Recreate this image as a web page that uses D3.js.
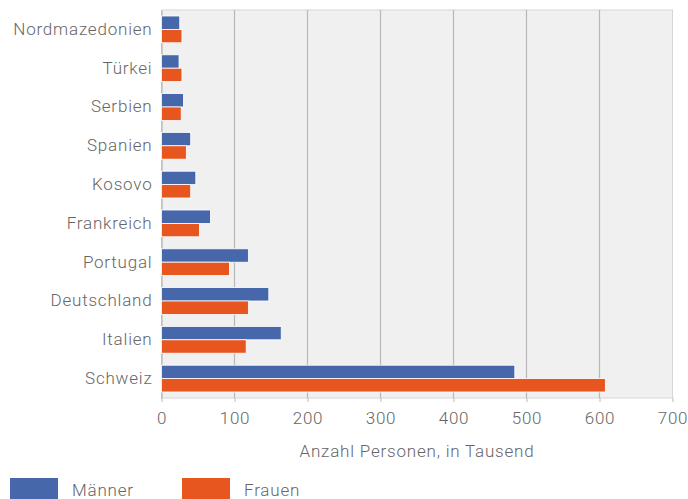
<!DOCTYPE html>
<html>
<head>
<meta charset="utf-8">
<script src="https://cdn.jsdelivr.net/npm/d3@7"></script>
<style>
  body { margin: 0; background: #fff; }
  text { font-family: Roboto, "Open Sans", sans-serif; font-weight: 300; fill: #666; letter-spacing: 0.8px; }
</style>
</head>
<body>
<svg width="688" height="499"></svg>
<script>
// data (thousand persons)
var countries = ["Nordmazedonien", "Türkei", "Serbien", "Spanien", "Kosovo",
                 "Frankreich", "Portugal", "Deutschland", "Italien", "Schweiz"];
var maenner = [25, 24, 30, 40, 47, 67, 119, 147, 164, 484];
var frauen  = [28, 28, 27, 34, 40, 52, 93, 119, 116, 608];
var seriesNames = ["Männer", "Frauen"];
var seriesColors = ["#4767ab", "#e8561f"];
var xTicks = [0, 100, 200, 300, 400, 500, 600, 700];

var svg = d3.select("svg");
var plotLeft = 161.5, plotRight = 672.5, plotTop = 10, plotBottom = 398;

var x = d3.scaleLinear().domain([0, 700]).range([plotLeft, plotRight]);
var y = d3.scaleBand().domain(countries).range([plotTop, plotBottom]).paddingInner(0.31).paddingOuter(0.155);
var y1 = d3.scaleBand().domain(seriesNames).range([0, y.bandwidth()]);

// plot background
svg.append("rect")
    .attr("x", plotLeft).attr("y", plotTop)
    .attr("width", plotRight - plotLeft).attr("height", plotBottom - plotTop)
    .attr("fill", "#f0f0f0").attr("stroke", "#d6d6d6");

// grid lines
svg.selectAll(".grid")
    .data(xTicks.slice(1, -1))
    .enter().append("line")
    .attr("class", "grid")
    .attr("x1", function(d) { return x(d); }).attr("x2", function(d) { return x(d); })
    .attr("y1", plotTop).attr("y2", plotBottom)
    .attr("stroke", "#b8b8b8").attr("stroke-width", 1.2);

// x axis
var xAxis = svg.append("g")
    .attr("transform", "translate(0," + plotBottom + ")")
    .call(d3.axisBottom(x).tickValues(xTicks).tickSize(4).tickPadding(10));
xAxis.select(".domain").remove();
xAxis.selectAll("line").attr("stroke", "#bbb");
xAxis.selectAll("text").style("font-size", "17px").attr("fill", "#707070");

svg.append("text")
    .attr("x", (plotLeft + plotRight) / 2).attr("y", 457)
    .attr("text-anchor", "middle")
    .style("font-size", "17px")
    .text("Anzahl Personen, in Tausend");

// y axis
var yAxis = svg.append("g")
    .attr("transform", "translate(" + plotLeft + ",0)")
    .call(d3.axisLeft(y).tickSize(0).tickPadding(9));
yAxis.select(".domain").attr("stroke", "#aaa");
yAxis.selectAll("text").style("font-size", "17px").attr("fill", "#666");

// bars
var rows = countries.map(function(c, i) { return { country: c, values: [maenner[i], frauen[i]] }; });

var group = svg.selectAll(".row")
    .data(rows)
    .enter().append("g")
    .attr("class", "row")
    .attr("transform", function(d) { return "translate(0," + y(d.country) + ")"; });

group.selectAll("rect")
    .data(function(d) { return d.values.map(function(v, k) { return { key: seriesNames[k], value: v, k: k }; }); })
    .enter().append("rect")
    .attr("x", x(0))
    .attr("y", function(d) { return y1(d.key); })
    .attr("width", function(d) { return x(d.value) - x(0); })
    .attr("height", y1.bandwidth())
    .attr("fill", function(d) { return seriesColors[d.k]; })
    .attr("stroke", "#fff").attr("stroke-width", 0.8);

// legend
var legend = svg.selectAll(".legend")
    .data(seriesNames)
    .enter().append("g")
    .attr("class", "legend")
    .attr("transform", function(d, i) { return "translate(" + (10 + i * 172) + ",478)"; });

legend.append("rect")
    .attr("width", 48).attr("height", 22)
    .attr("fill", function(d, i) { return seriesColors[i]; });

legend.append("text")
    .attr("x", 62).attr("y", 18)
    .style("font-size", "17px")
    .text(function(d) { return d; });
</script>
</body>
</html>
